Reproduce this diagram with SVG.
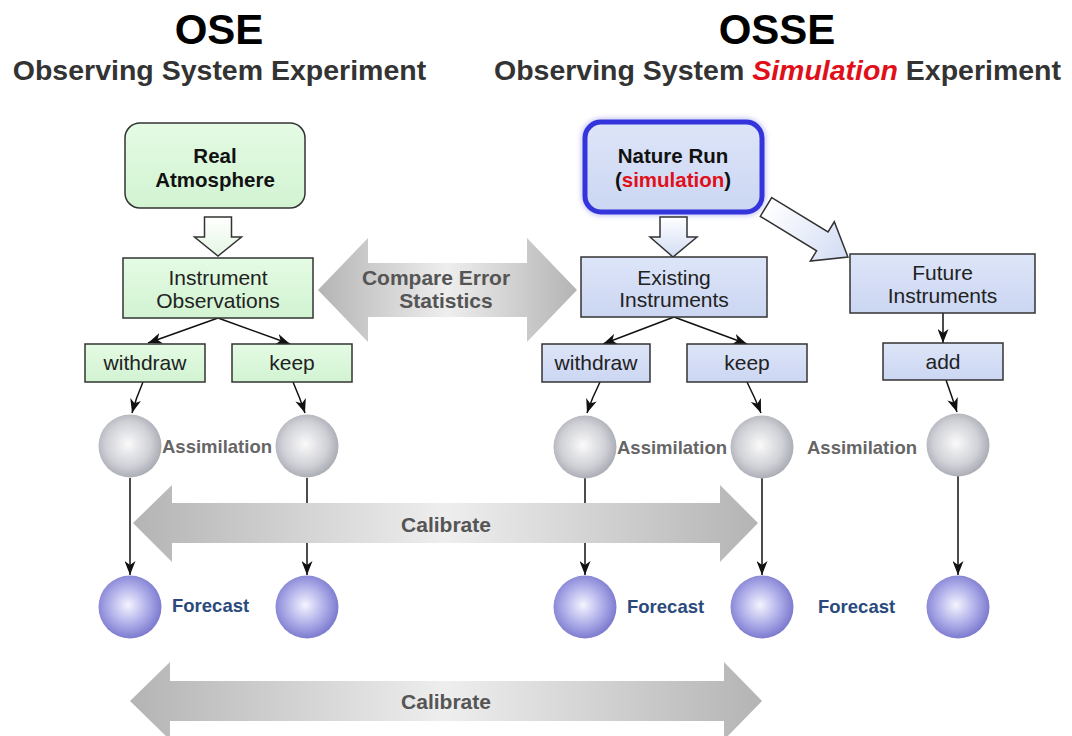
<svg xmlns="http://www.w3.org/2000/svg" width="1072" height="736" viewBox="0 0 1072 736">
<defs>
<style>
text{font-family:"Liberation Sans",Arial,Helvetica,sans-serif}
.title{font-size:42px;font-weight:bold;fill:#000;text-anchor:middle}
.sub{font-size:28.5px;font-weight:bold;fill:#333;text-anchor:middle}
.lbl{font-size:21px;fill:#222;text-anchor:middle}
.blbl{font-size:20.5px;font-weight:bold;fill:#111;text-anchor:middle}
.gbox{fill:url(#gGreen);stroke:#333;stroke-width:1.5}
.bbox{fill:url(#gBlue);stroke:#333;stroke-width:1.5}
.hollowG{fill:url(#gHollowG);stroke:#333;stroke-width:1.5}
.hollowB{fill:url(#gHollowB);stroke:#333;stroke-width:1.5}
.conn{stroke:#111;stroke-width:1.5;fill:none;marker-end:url(#ah)}
.assim{fill:url(#gGray)}
.fcst{fill:url(#gPurple)}
.alab{font-size:18.5px;font-weight:bold;fill:#666}
.flab{font-size:18.5px;font-weight:bold;fill:#2b4a7c}
.big{fill:url(#gArrow)}
.biglab{font-size:21px;font-weight:bold;fill:#555;text-anchor:middle}
</style>
<linearGradient id="gGreen" x1="0" y1="0" x2="0" y2="1"><stop offset="0" stop-color="#e4fbe4"/><stop offset="1" stop-color="#d2f3d2"/></linearGradient>
<linearGradient id="gBlue" x1="0" y1="0" x2="0" y2="1"><stop offset="0" stop-color="#dde5f8"/><stop offset="1" stop-color="#cbd6f2"/></linearGradient>
<linearGradient id="gHollowG" x1="0" y1="0" x2="0" y2="1"><stop offset="0" stop-color="#ffffff"/><stop offset="1" stop-color="#e4f6e4"/></linearGradient>
<linearGradient id="gHollowB" x1="0" y1="0" x2="0" y2="1"><stop offset="0" stop-color="#ffffff"/><stop offset="1" stop-color="#d2dcf4"/></linearGradient>
<linearGradient id="gHollowD" x1="0" y1="0" x2="1" y2="0"><stop offset="0" stop-color="#ffffff"/><stop offset="1" stop-color="#d2dcf4"/></linearGradient>
<linearGradient id="gArrow" x1="0" y1="0" x2="1" y2="0"><stop offset="0" stop-color="#b4b4b4"/><stop offset="0.5" stop-color="#eeeeee"/><stop offset="1" stop-color="#b4b4b4"/></linearGradient>
<radialGradient id="gGray" cx="0.47" cy="0.47" r="0.6"><stop offset="0" stop-color="#fafafa"/><stop offset="0.6" stop-color="#cfd0d6"/><stop offset="1" stop-color="#9d9fa8"/></radialGradient>
<radialGradient id="gPurple" cx="0.47" cy="0.47" r="0.6"><stop offset="0" stop-color="#f4f4ff"/><stop offset="0.55" stop-color="#aaa9e7"/><stop offset="1" stop-color="#6d6bc6"/></radialGradient>
<filter id="glow" x="-10%" y="-10%" width="120%" height="120%"><feGaussianBlur stdDeviation="2"/></filter>
<marker id="ah" viewBox="0 0 14 11" refX="14" refY="5.5" markerWidth="14" markerHeight="11" markerUnits="userSpaceOnUse" orient="auto"><path d="M0,0 L14,5.5 L0,11 L4,5.5 z" fill="#111"/></marker>
</defs>
<rect width="1072" height="736" fill="#fff"/>

<g id="titles">
<text class="title" x="219" y="44">OSE</text>
<text class="sub" x="219.5" y="80">Observing System Experiment</text>
<text class="title" x="777" y="44">OSSE</text>
<text class="sub" x="777.5" y="80">Observing System <tspan fill="#e0101a" font-style="italic">Simulation</tspan> Experiment</text>
</g>

<g id="connectors">
<line class="conn" x1="218" y1="318" x2="148" y2="343"/>
<line class="conn" x1="218" y1="318" x2="290" y2="344"/>
<line class="conn" x1="674" y1="317" x2="603" y2="344"/>
<line class="conn" x1="674" y1="317" x2="747" y2="344"/>
<line class="conn" x1="943" y1="313" x2="943" y2="343"/>
<path class="conn" d="M143,382 Q136,398 132,413"/>
<path class="conn" d="M293,382 Q300,398 305,413"/>
<path class="conn" d="M600,382 Q592,398 587,413"/>
<path class="conn" d="M747,382 Q755,398 761,413"/>
<path class="conn" d="M946,380 Q952,397 957,412"/>
<line class="conn" x1="130" y1="478" x2="130" y2="575"/>
<line class="conn" x1="307" y1="478" x2="307" y2="575"/>
<line class="conn" x1="585" y1="478" x2="585" y2="575"/>
<line class="conn" x1="762" y1="478" x2="762" y2="575"/>
<line class="conn" x1="958" y1="476" x2="958" y2="575"/>
</g>

<g id="compare-arrow">
<polygon class="big" points="318,290 368,238 368,263 527,263 527,238 577,290 527,342 527,317 368,317 368,342"/>
<text class="biglab" x="436" y="285">Compare Error</text>
<text class="biglab" x="446" y="308">Statistics</text>
</g>

<g id="calibrate-1">
<polygon class="big" points="133,523 172,485 172,503 720,503 720,485 758,523 720,562 720,543 172,543 172,562"/>
<text class="biglab" x="446" y="532">Calibrate</text>
</g>
<g id="calibrate-2">
<polygon class="big" points="130,701 170,662 170,681 724,681 724,662 762,701 724,740 724,721 170,721 170,740"/>
<text class="biglab" x="446" y="709">Calibrate</text>
</g>

<g id="real-atmosphere">
<rect class="gbox" x="125" y="123" width="180" height="85" rx="15"/>
<text class="blbl" x="215" y="163">Real</text>
<text class="blbl" x="215" y="187">Atmosphere</text>
</g>
<g id="arrow-real-obs">
<polygon class="hollowG" points="204.5,217 231.5,217 231.5,237 241.5,237 218,256 194.5,237 204.5,237"/>
</g>
<g id="instrument-observations">
<rect class="gbox" x="123" y="258" width="190" height="60"/>
<text class="lbl" x="218" y="285">Instrument</text>
<text class="lbl" x="218" y="308">Observations</text>
</g>
<g id="withdraw-ose">
<rect class="gbox" x="85" y="344" width="120" height="38"/>
<text class="lbl" x="145" y="370">withdraw</text>
</g>
<g id="keep-ose">
<rect class="gbox" x="232" y="344" width="120" height="38"/>
<text class="lbl" x="292" y="370">keep</text>
</g>

<g id="nature-run">
<rect x="585" y="122" width="177" height="90" rx="16" fill="none" stroke="#8a8af0" stroke-width="9" opacity="0.4" filter="url(#glow)"/>
<rect x="585" y="122" width="177" height="90" rx="16" fill="url(#gBlue)" stroke="#3434dc" stroke-width="5"/>
<text class="blbl" x="673" y="163">Nature Run</text>
<text class="blbl" x="673" y="187">(<tspan fill="#e0101a">simulation</tspan>)</text>
</g>
<g id="arrow-nature-existing">
<polygon class="hollowB" points="660,217 687,217 687,237 697,237 673,257 650,237 660,237"/>
</g>
<g id="arrow-nature-future">
<polygon fill="url(#gHollowD)" stroke="#333" stroke-width="1.5" transform="translate(766,207) rotate(31.4)" points="0,-11 66,-11 66,-23 96,0 66,23 66,11 0,11"/>
</g>
<g id="existing-instruments">
<rect class="bbox" x="581" y="257" width="186" height="60"/>
<text class="lbl" x="674" y="285">Existing</text>
<text class="lbl" x="674" y="307">Instruments</text>
</g>
<g id="future-instruments">
<rect class="bbox" x="850" y="254" width="185" height="59"/>
<text class="lbl" x="942.5" y="280">Future</text>
<text class="lbl" x="942.5" y="303">Instruments</text>
</g>
<g id="withdraw-osse">
<rect class="bbox" x="542" y="344" width="108" height="38"/>
<text class="lbl" x="596" y="370">withdraw</text>
</g>
<g id="keep-osse">
<rect class="bbox" x="687" y="344" width="120" height="38"/>
<text class="lbl" x="747" y="370">keep</text>
</g>
<g id="add">
<rect class="bbox" x="883" y="343" width="120" height="37"/>
<text class="lbl" x="943" y="369">add</text>
</g>

<g id="assimilation">
<circle class="assim" cx="130" cy="446" r="31.5"/>
<circle class="assim" cx="307" cy="446" r="31.5"/>
<circle class="assim" cx="585" cy="447" r="31.5"/>
<circle class="assim" cx="762" cy="447" r="31.5"/>
<circle class="assim" cx="958" cy="445" r="31.5"/>
<text class="alab" x="162" y="453">Assimilation</text>
<text class="alab" x="617" y="454">Assimilation</text>
<text class="alab" x="807" y="454">Assimilation</text>
</g>
<g id="forecast">
<circle class="fcst" cx="130" cy="607" r="31.5"/>
<circle class="fcst" cx="307" cy="607" r="31.5"/>
<circle class="fcst" cx="585" cy="607" r="31.5"/>
<circle class="fcst" cx="762" cy="607" r="31.5"/>
<circle class="fcst" cx="958" cy="607" r="31.5"/>
<text class="flab" x="172" y="612">Forecast</text>
<text class="flab" x="627" y="613">Forecast</text>
<text class="flab" x="818" y="613">Forecast</text>
</g>
</svg>
